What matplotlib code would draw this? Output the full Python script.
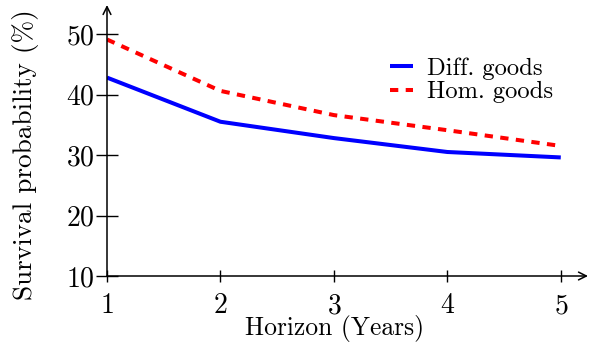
import matplotlib
matplotlib.use("Agg")
import matplotlib.pyplot as plt

plt.rcParams['font.family'] = ['cmr10', 'DejaVu Serif']
plt.rcParams['mathtext.fontset'] = 'cm'
plt.rcParams['axes.formatter.use_mathtext'] = True

horizon = [1, 2, 3, 4, 5]
diff_goods = [42.8, 35.5, 32.8, 30.5, 29.6]
hom_goods = [49.1, 40.6, 36.6, 34.1, 31.5]
yticks = [10, 20, 30, 40, 50]

fig = plt.figure(figsize=(5.94, 3.48), dpi=100)
ax = fig.add_axes([107 / 594, 1 - 276 / 348, (588 - 107) / 594, (276 - 5) / 348])

ax.plot(horizon, diff_goods, color='#0000ff', lw=2.9, solid_capstyle='butt',
        label='Diff. goods')
ax.plot(horizon, hom_goods, color='#ff0000', lw=2.9, dashes=(2.06, 1.84),
        dash_capstyle='butt', label='Hom. goods')

ax.set_xlim(1, 5.24)
ax.set_ylim(10, 54.8)
ax.set_xticks(horizon)
ax.set_yticks(yticks)

# axis lines with open arrow heads
for s in ax.spines.values():
    s.set_visible(False)
ax.annotate('', xy=(1, 0), xytext=(0, 0), xycoords='axes fraction',
            arrowprops=dict(arrowstyle='->', lw=1.1, color='black',
                            shrinkA=0, shrinkB=0, mutation_scale=14))
ax.annotate('', xy=(0, 1), xytext=(0, 0), xycoords='axes fraction',
            arrowprops=dict(arrowstyle='->', lw=1.1, color='black',
                            shrinkA=0, shrinkB=0, mutation_scale=14))

ax.tick_params(axis='y', direction='inout', length=16, width=1.0, labelsize=20, pad=1)
ax.tick_params(axis='x', direction='inout', length=8.5, width=1.0, labelsize=20, pad=8)

ax.set_xlabel('Horizon (Years)', fontsize=18.4, va='center')
ax.xaxis.set_label_coords((335 - 107) / 481, -(328 - 276) / 271)
ax.set_ylabel('Survival probability (%)', fontsize=19.6, va='center')
ax.yaxis.set_label_coords(-(107 - 25) / 481, (276 - 155) / 271)

ax.legend(loc='upper left', bbox_to_anchor=((390 - 107) / 481, (276 - 57) / 271),
          frameon=False, fontsize=17.7, handlelength=0.94, handletextpad=0.56,
          labelspacing=0.06, borderpad=0, borderaxespad=0)

fig.savefig('out.png', dpi=100)
